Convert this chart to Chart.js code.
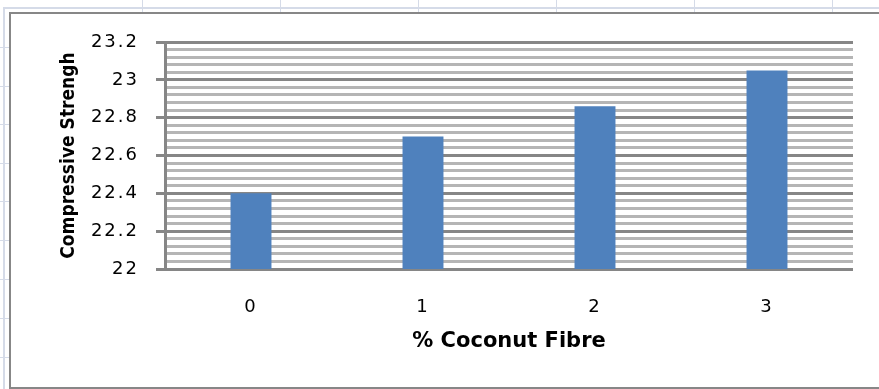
<!DOCTYPE html>
<html>
<head>
<meta charset="utf-8">
<title>Compressive Strength vs % Coconut Fibre</title>
<script src="https://cdn.jsdelivr.net/npm/chart.js@4/dist/chart.umd.min.js"></script>
<style>
  html, body { margin: 0; padding: 0; background: #ffffff; }
  #chart { display: block; }
</style>
</head>
<body>
<canvas id="chart" width="879" height="389"></canvas>
<script>
// Fibre content (%) on the category axis
const categories = ['0', '1', '2', '3'];
// Compressive strength for each fibre content
const strength = [22.4, 22.7, 22.86, 23.05];
// Value axis range and tick spacing
const yMin = 22;
const yMax = 23.2;
const majorStep = 0.2;
const minorStep = 0.04;

const isMajor = v => Math.abs(v / majorStep - Math.round(v / majorStep)) < 1e-6;

// Sheet-style backdrop and the chart frame behind the plot
const backdrop = {
  id: 'backdrop',
  beforeDraw(chart) {
    const ctx = chart.ctx;
    const W = chart.width, H = chart.height;
    ctx.save();
    ctx.fillStyle = '#ffffff';
    ctx.fillRect(0, 0, W, H);
    ctx.fillStyle = '#d5dbe8';
    ctx.fillRect(3, 7, W - 3, 2);
    ctx.fillRect(3, 7, 2, H - 7);
    [47, 86, 124, 163, 201, 240, 279, 318, 357].forEach(y => ctx.fillRect(0, y, 9, 1));
    [142, 280, 418, 556, 694, 832].forEach(x => ctx.fillRect(x, 0, 1, 12));
    ctx.fillStyle = '#878787';
    ctx.fillRect(9, 12, W - 9, 2);
    ctx.fillRect(9, 12, 2, H - 12);
    ctx.fillRect(9, H - 2, W - 9, 2);
    ctx.restore();
  },
  // tick labels are drawn after the bars; give them a little tracking
  afterDatasetsDraw(chart) {
    chart.ctx.letterSpacing = '2px';
  },
  afterDraw(chart) {
    chart.ctx.letterSpacing = '0px';
  }
};

new Chart(document.getElementById('chart'), {
  type: 'bar',
  data: {
    labels: categories,
    datasets: [{
      data: strength,
      backgroundColor: '#4f81bd',
      borderWidth: 0,
      categoryPercentage: 1,
      barPercentage: 0.238
    }]
  },
  options: {
    responsive: false,
    animation: false,
    devicePixelRatio: 1,
    layout: { padding: { left: 58.1, top: 42, right: 26, bottom: 34.4 } },
    plugins: {
      legend: { display: false },
      tooltip: { enabled: false }
    },
    scales: {
      x: {
        grid: { display: false, drawTicks: false },
        border: { display: false },
        ticks: {
          z: 1,
          color: '#000000',
          padding: 28,
          font: { family: 'DejaVu Sans', size: 18 }
        },
        title: {
          display: true,
          text: '% Coconut Fibre',
          color: '#000000',
          padding: 0,
          font: { family: 'DejaVu Sans', size: 21, weight: 'bold' }
        },
        afterFit(scale) { scale.height = 85.6; }
      },
      y: {
        min: yMin,
        max: yMax,
        grid: {
          color: c => isMajor(c.tick.value) ? '#868686' : '#b5b5b5',
          lineWidth: 3,
          tickLength: 9,
          tickColor: c => isMajor(c.tick.value) ? '#868686' : 'rgba(0,0,0,0)',
          tickWidth: 3
        },
        border: { display: true, color: '#868686', width: 3 },
        ticks: {
          z: 1,
          stepSize: minorStep,
          autoSkip: false,
          padding: 17,
          color: '#000000',
          font: { family: 'DejaVu Sans', size: 18 },
          callback: v => isMajor(v) ? String(Math.round(v * 10) / 10) : ''
        },
        title: {
          display: true,
          text: 'Compressive Strengh',
          color: '#000000',
          padding: 0,
          font: { family: "'DejaVu Sans Condensed', 'DejaVu Sans'", size: 19, weight: 'bold' }
        },
        afterFit(scale) { scale.width = 106.9; }
      }
    }
  },
  plugins: [backdrop]
});
</script>
</body>
</html>
